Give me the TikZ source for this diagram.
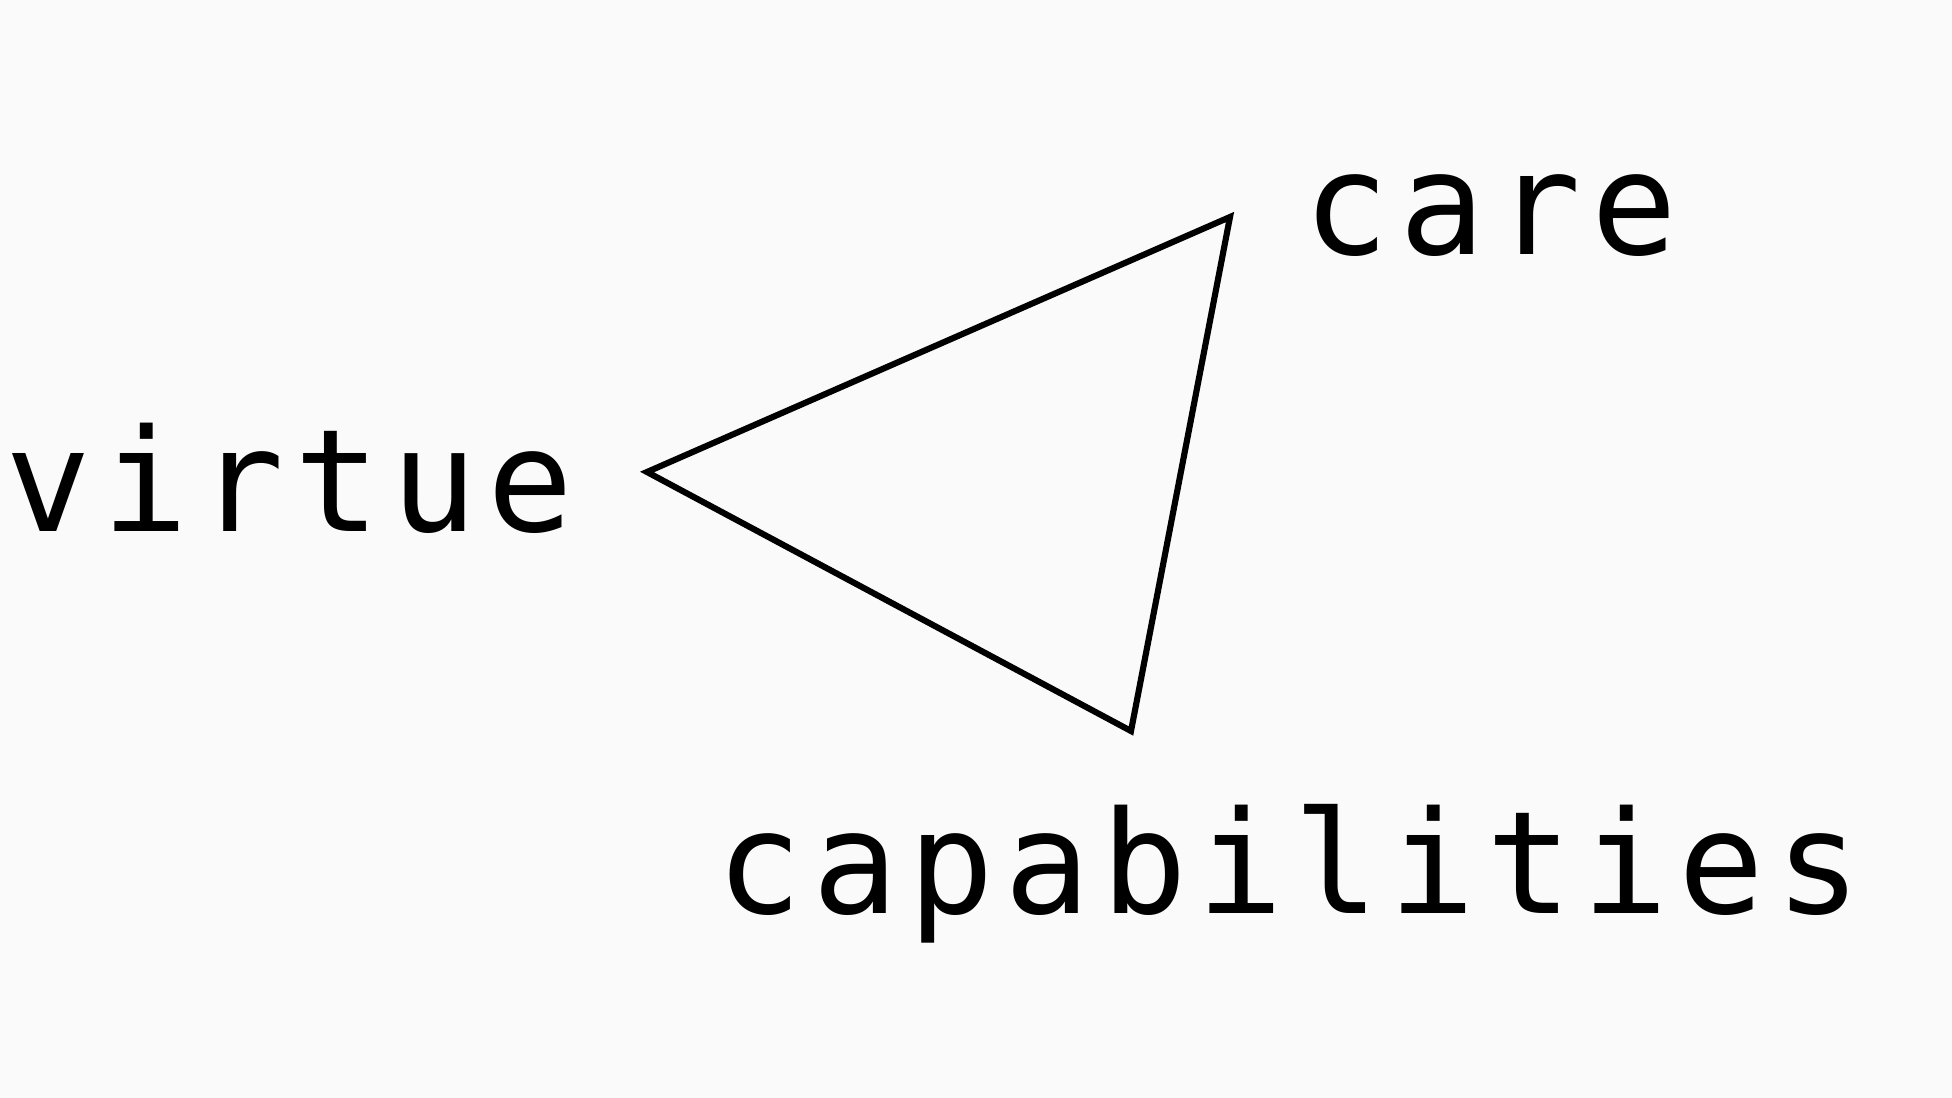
\documentclass[tikz,border=0pt]{standalone}
\usepackage{fontspec}
\newfontfamily\labelfont[LetterSpace=7.3]{DejaVu Sans Mono}
\definecolor{bg}{RGB}{250,250,250}
\tikzset{
  lbl/.style={anchor=base west, inner sep=0pt, outer sep=0pt,
    font=\labelfont\fontsize{107}{120}\selectfont, text=black},
  tri/.style={draw=black, line width=4.6pt, line join=miter}
}
\begin{document}
\begin{tikzpicture}[x=0.75pt,y=-0.75pt]
\fill[bg] (0,0) rectangle (1952,1098);
\useasboundingbox (0,0) rectangle (1952,1098);
\coordinate (vl) at (647,472);
\coordinate (vt) at (1230,217);
\coordinate (vb) at (1131,731);
\draw[tri] (vl) -- (vt) -- (vb) -- cycle;
\node[lbl] (virtue) at (6,531) {virtue};
\node[lbl] (care) at (1303,255) {care};
\node[lbl] (cap) at (716,913) {capabilities};
\end{tikzpicture}
\end{document}
